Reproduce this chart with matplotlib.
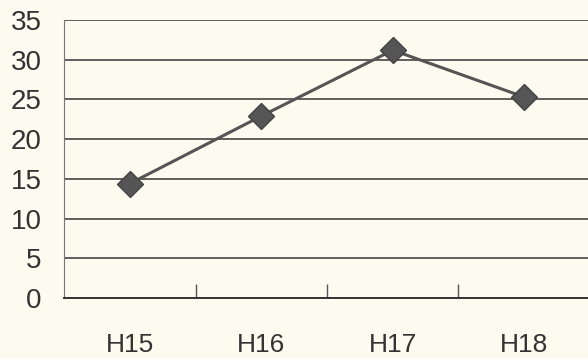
import numpy as np
import matplotlib.pyplot as plt

# Data
years = ["H15", "H16", "H17", "H18"]
values = [14.4, 22.9, 31.2, 25.3]
y_ticks = [0, 5, 10, 15, 20, 25, 30, 35]

bg = "#fbfcef"
ink = "#555555"

plt.rcParams["font.family"] = ["Liberation Sans", "DejaVu Sans"]

fig = plt.figure(figsize=(5.88, 3.59), dpi=100, facecolor=bg)
ax = fig.add_axes([64 / 588, 1 - 298 / 359, 526 / 588, 278 / 359])
ax.set_facecolor(bg)

x = np.arange(len(years))
ax.plot(x, values, color=ink, linewidth=2.2, marker="D", markersize=13,
        markerfacecolor=ink, markeredgecolor="#444444", zorder=3)

ax.set_ylim(0, 35)
ax.set_xlim(-0.5, len(years) - 0.5)
ax.set_yticks(y_ticks)
ax.set_yticklabels([str(v) for v in y_ticks], fontsize=20, color="#333333")
ax.tick_params(axis="y", length=0, pad=16)

# category labels centered, boundary ticks between categories
ax.set_xticks(x)
ax.set_xticklabels(years, fontsize=19, color="#333333")
ax.tick_params(axis="x", length=0, pad=25)
ax.set_xticks(np.arange(0.5, len(years) - 1, 1.0), minor=True)
ax.tick_params(axis="x", which="minor", direction="in", length=10, color=ink, width=1)

ax.grid(axis="y", color="#444444", linewidth=1.2)
ax.set_axisbelow(True)
for side in ["top", "right"]:
    ax.spines[side].set_visible(False)
ax.spines["left"].set_color("#777777")
ax.spines["bottom"].set_color("#333333")
ax.spines["bottom"].set_linewidth(1.4)

fig.savefig("out.png", dpi=100, facecolor=bg)
